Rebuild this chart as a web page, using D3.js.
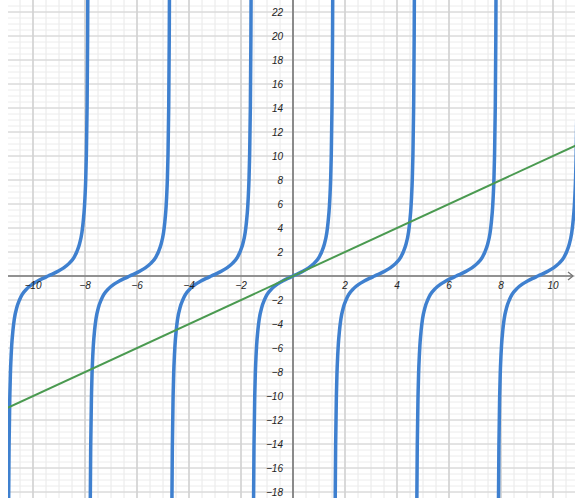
<!DOCTYPE html>
<html>
<head>
<meta charset="utf-8">
<script src="https://cdn.jsdelivr.net/npm/d3@7"></script>
<style>
  body { margin: 0; background: #fff; }
  text { font-family: "Liberation Sans", sans-serif; font-style: italic; font-size: 10px; fill: #222; }
</style>
</head>
<body>
<div id="chart"></div>
<script>
// values
// centres of the tan branches (zero crossings)
var branchCenters = [-9.42, -6.28, -3.14, 0, 3.14, 6.28, 9.42];
// one branch, offset from its centre and height
var branchDx = [-1.54, -1.53, -1.52, -1.5, -1.47, -1.45, -1.42, -1.4, -1.35, -1.3, -1.2, -1.1, -1.0, -0.8, -0.6, -0.4, -0.2, 0,
                0.2, 0.4, 0.6, 0.8, 1.0, 1.1, 1.2, 1.3, 1.35, 1.4, 1.42, 1.45, 1.47, 1.5, 1.52, 1.53, 1.54];
var branchY  = [-32.5, -24.5, -19.7, -14.1, -9.9, -8.2, -6.6, -5.8, -4.5, -3.6, -2.6, -2.0, -1.56, -1.03, -0.68, -0.42, -0.2, 0,
                0.2, 0.42, 0.68, 1.03, 1.56, 2.0, 2.6, 3.6, 4.5, 5.8, 6.6, 8.2, 9.9, 14.1, 19.7, 24.5, 32.5];
// the straight line
var lineX = [-11.5, 11.5];
var lineY = [-11.5, 11.5];
// tick labels
var xTicks = [-10, -8, -6, -4, -2, 2, 4, 6, 8, 10];
var yTicks = [-18, -16, -14, -12, -10, -8, -6, -4, -2, 2, 4, 6, 8, 10, 12, 14, 16, 18, 20, 22];

var W = 575, H = 498;
var plot = {left: 8, right: 575, top: 0, bottom: 498};

var x = d3.scaleLinear().domain([-10, 10]).range([33, 553]);
var y = d3.scaleLinear().domain([-18, 22]).range([492, 12]);

var svg = d3.select("#chart").append("svg")
    .attr("width", W)
    .attr("height", H);

svg.append("clipPath").attr("id", "clip")
    .append("rect")
    .attr("x", plot.left).attr("y", plot.top)
    .attr("width", plot.right - plot.left)
    .attr("height", plot.bottom - plot.top);

var g = svg.append("g").attr("clip-path", "url(#clip)");

// minor grid
var xMin = x.invert(plot.left), xMax = x.invert(plot.right);
var yMin = y.invert(plot.bottom), yMax = y.invert(plot.top);

g.selectAll(".vminor")
    .data(d3.range(Math.ceil(xMin * 2) / 2, xMax, 0.5))
    .enter().append("line")
    .attr("x1", d => x(d)).attr("x2", d => x(d))
    .attr("y1", plot.top).attr("y2", plot.bottom)
    .attr("stroke", "#e8e8e8").attr("stroke-width", 1);

g.selectAll(".hminor")
    .data(d3.range(Math.ceil(yMin * 2) / 2, yMax, 0.5))
    .enter().append("line")
    .attr("y1", d => y(d)).attr("y2", d => y(d))
    .attr("x1", plot.left).attr("x2", plot.right)
    .attr("stroke", "#ececec").attr("stroke-width", 1);

// major grid
g.selectAll(".vmajor")
    .data(d3.range(-10, 11, 2))
    .enter().append("line")
    .attr("x1", d => x(d)).attr("x2", d => x(d))
    .attr("y1", plot.top).attr("y2", plot.bottom)
    .attr("stroke", "#d2d2d2").attr("stroke-width", 1.6);

g.selectAll(".hmajor")
    .data(d3.range(-18, 23, 2))
    .enter().append("line")
    .attr("y1", d => y(d)).attr("y2", d => y(d))
    .attr("x1", plot.left).attr("x2", plot.right)
    .attr("stroke", "#d2d2d2").attr("stroke-width", 1.2);

// axes
g.append("line")
    .attr("x1", plot.left).attr("x2", plot.right - 2)
    .attr("y1", y(0)).attr("y2", y(0))
    .attr("stroke", "#777").attr("stroke-width", 1.3);
g.append("line")
    .attr("x1", x(0)).attr("x2", x(0))
    .attr("y1", plot.top).attr("y2", plot.bottom)
    .attr("stroke", "#777").attr("stroke-width", 1.6);

// arrow on the x axis
g.append("path")
    .attr("d", "M" + (plot.right - 7) + "," + (y(0) - 4) + " L" + (plot.right - 2) + "," + y(0) + " L" + (plot.right - 7) + "," + (y(0) + 4))
    .attr("fill", "none").attr("stroke", "#777").attr("stroke-width", 1.3);

// tick labels
svg.selectAll(".xlab")
    .data(xTicks)
    .enter().append("text")
    .attr("x", d => x(d))
    .attr("y", y(0) + 13)
    .attr("text-anchor", "middle")
    .text(d => d < 0 ? "\u2212" + (-d) : d);

svg.selectAll(".ylab")
    .data(yTicks)
    .enter().append("text")
    .attr("x", x(0) - 10)
    .attr("y", d => y(d) + 3.5)
    .attr("text-anchor", "end")
    .text(d => d < 0 ? "\u2212" + (-d) : d);

// tan branches
var branch = d3.line()
    .x(d => x(d[0]))
    .y(d => y(d[1]))
    .curve(d3.curveMonotoneX);

g.selectAll(".branch")
    .data(branchCenters)
    .enter().append("path")
    .attr("d", c => branch(branchDx.map((dx, i) => [c + dx, branchY[i]])))
    .attr("fill", "none")
    .attr("stroke", "#3f80cf")
    .attr("stroke-width", 3.5)
    .attr("stroke-linecap", "round");

// straight line
g.append("path")
    .attr("d", d3.line().x(d => x(d[0])).y(d => y(d[1]))(lineX.map((v, i) => [v, lineY[i]])))
    .attr("fill", "none")
    .attr("stroke", "#4a9a50")
    .attr("stroke-width", 2);
</script>
</body>
</html>
